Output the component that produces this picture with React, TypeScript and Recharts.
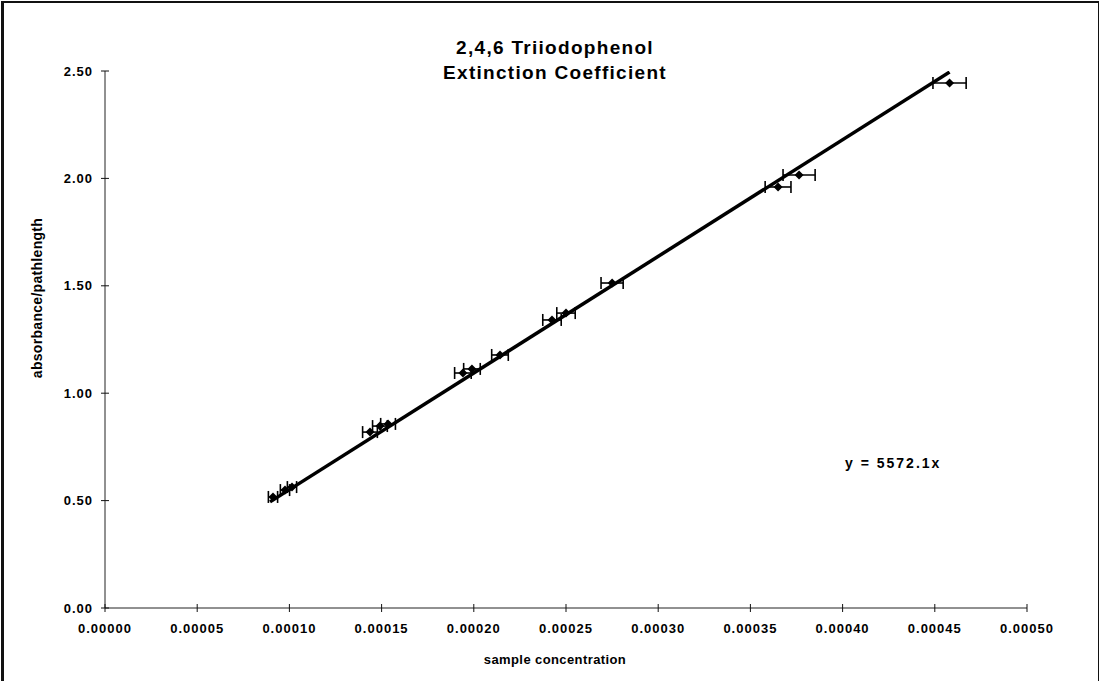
import React from "react";
import { ScatterChart, Scatter, XAxis, YAxis, ErrorBar } from "recharts";

// sample concentration (x), absorbance/pathlength (y), x error bar half-width
const concX = [
  0.0000911, 0.0000976, 0.0001014, 0.0001437, 0.0001491, 0.0001535, 0.0001941, 0.000199,
  0.0002142, 0.0002424, 0.00025, 0.000275, 0.000365, 0.0003764, 0.000458,
];
const absY = [0.517, 0.549, 0.563, 0.819, 0.847, 0.857, 1.094, 1.113, 1.178, 1.341, 1.373, 1.513, 1.96, 2.016, 2.444];
const concErr = [
  0.0000025, 0.0000025, 0.0000025, 0.000004, 0.000004, 0.000004, 0.0000045, 0.0000045,
  0.0000045, 0.000005, 0.000005, 0.000006, 0.000007, 0.0000087, 0.000009,
];

// trendline end points as drawn
const trendX = [0.0000895, 0.000458];
const trendY = [0.494, 2.495];

const xTicks = [0, 0.00005, 0.0001, 0.00015, 0.0002, 0.00025, 0.0003, 0.00035, 0.0004, 0.00045, 0.0005];
const yTicks = [0, 0.5, 1, 1.5, 2, 2.5];

const points = concX.map((x, i) => ({ x, y: absY[i], err: concErr[i] }));
const trend = trendX.map((x, i) => ({ x, y: trendY[i] }));

const FONT = '"Liberation Sans", Arial, sans-serif';

const XTick = (props: any) => {
  const { x, y, payload } = props;
  const axisY = y - 16;
  return (
    <g>
      <line x1={x} x2={x} y1={axisY - 4} y2={axisY + 4} stroke="#111" strokeWidth={1} />
      <text x={x} y={y} dy="0.71em" textAnchor="middle" fontFamily={FONT} fontWeight="bold" fontSize={13} fill="#000" style={{ letterSpacing: "1px" }}>
        {Number(payload.value).toFixed(5)}
      </text>
    </g>
  );
};

const YTick = (props: any) => {
  const { x, y, payload } = props;
  const axisX = x + 12;
  return (
    <g>
      <line x1={axisX - 4} x2={axisX + 4} y1={y} y2={y} stroke="#111" strokeWidth={1} />
      <text x={x} y={y} dy="0.355em" textAnchor="end" fontFamily={FONT} fontWeight="bold" fontSize={13} fill="#000" style={{ letterSpacing: "1px" }}>
        {Number(payload.value).toFixed(2)}
      </text>
    </g>
  );
};

const Diamond = (props: any) => {
  const { cx, cy } = props;
  const r = 4.5;
  return <polygon points={`${cx},${cy - r} ${cx + r},${cy} ${cx},${cy + r} ${cx - r},${cy}`} fill="#000" />;
};

export default function App() {
  return (
    <div style={{ position: "fixed", left: 0, top: 0, width: 1099, height: 681, background: "#fff", overflow: "hidden" }}>
      {/* scanned frame */}
      <div style={{ position: "absolute", left: 1, top: 1, width: 1094, height: 700, border: "2px solid #111", borderLeftWidth: 3 }} />
      <ScatterChart width={1099} height={681} margin={{ top: 71, right: 72, bottom: 43, left: 45 }}>
        <XAxis
          type="number"
          dataKey="x"
          domain={[0, 0.0005]}
          ticks={xTicks}
          interval={0}
          tickLine={false}
          tickSize={4}
          tickMargin={12}
          tick={<XTick />}
          height={30}
          axisLine={{ stroke: "#222", strokeWidth: 1 }}
          allowDataOverflow
        />
        <YAxis
          type="number"
          dataKey="y"
          domain={[0, 2.5]}
          ticks={yTicks}
          interval={0}
          tickLine={false}
          tickSize={4}
          tickMargin={8}
          tick={<YTick />}
          width={60}
          axisLine={{ stroke: "#222", strokeWidth: 1 }}
          allowDataOverflow
        />
        <Scatter
          data={trend}
          line={{ stroke: "#000", strokeWidth: 3.5 }}
          shape={() => <g />}
          isAnimationActive={false}
          legendType="none"
        />
        <Scatter data={points} fill="#000" shape={<Diamond />} isAnimationActive={false}>
          <ErrorBar dataKey="err" direction="x" width={6} stroke="#000" strokeWidth={1.6} isAnimationActive={false} />
        </Scatter>
      </ScatterChart>
      <div style={{ position: "absolute", left: 305, top: 35, width: 500, textAlign: "center", fontFamily: FONT, fontWeight: "bold", fontSize: 19, lineHeight: "25px", letterSpacing: "1.3px", color: "#000" }}>
        2,4,6 Triiodophenol
        <br />
        Extinction Coefficient
      </div>
      <div style={{ position: "absolute", left: 37, top: 298, transform: "translate(-50%, -50%) rotate(-90deg)", whiteSpace: "nowrap", fontFamily: FONT, fontWeight: "bold", fontSize: 14, letterSpacing: "0.3px", color: "#000" }}>
        absorbance/pathlength
      </div>
      <div style={{ position: "absolute", left: 455, top: 652, width: 200, textAlign: "center", fontFamily: FONT, fontWeight: "bold", fontSize: 13, letterSpacing: "0.4px", color: "#000" }}>
        sample concentration
      </div>
      <div style={{ position: "absolute", left: 845, top: 455, fontFamily: FONT, fontWeight: "bold", fontSize: 14, letterSpacing: "2px", color: "#000" }}>
        y = 5572.1x
      </div>
    </div>
  );
}
